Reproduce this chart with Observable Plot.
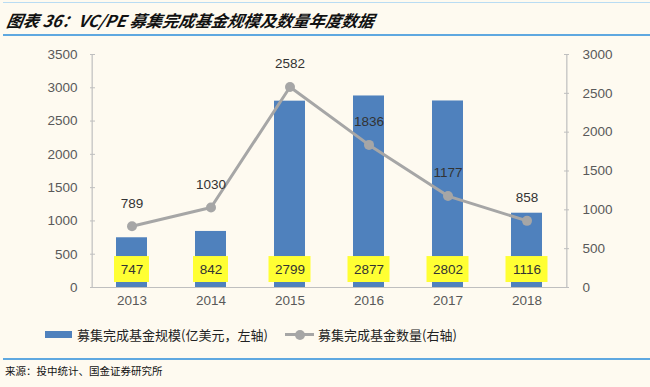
<!DOCTYPE html>
<html>
<head>
<meta charset="utf-8">
<script src="https://cdn.jsdelivr.net/npm/d3@7"></script>
<script src="https://cdn.jsdelivr.net/npm/@observablehq/plot@0.6"></script>
<style>
  html, body { margin: 0; padding: 0; background: #fefaf0; }
  #page { position: relative; width: 650px; height: 387px; background: #fefaf0; overflow: hidden;
          font-family: "Liberation Sans", Arial, "Noto Sans CJK SC", sans-serif; }
  .hline { position: absolute; left: 3px; width: 647px; }
  #title { position: absolute; left: 5px; top: 9px; font-family: "Noto Sans CJK SC", sans-serif;
           font-weight: bold; font-style: italic; font-size: 16.3px; color: #111; white-space: nowrap;
           transform: skewX(-10deg); transform-origin: left bottom; line-height: 22px; }
  #chart { position: absolute; left: 0; top: 40px; }
  .leg { position: absolute; font-family: "Noto Sans CJK SC", sans-serif; font-size: 13px; color: #222;
         white-space: nowrap; line-height: 16px; }
  #source { position: absolute; left: 5px; top: 364px; font-family: "Noto Sans CJK SC", sans-serif;
            font-size: 10.5px; color: #111; white-space: nowrap; line-height: 14px; }
</style>
</head>
<body>
<div id="page">
  <div class="hline" style="top:2px;height:1px;background:#b9dcf3;"></div>
  <div id="title">图表 36：VC/PE 募集完成基金规模及数量年度数据</div>
  <div class="hline" style="top:34px;height:2px;background:#5fa8e0;"></div>
  <div id="chart"></div>
  <div style="position:absolute;left:45px;top:331px;width:27px;height:7px;background:#4f81bd;"></div>
  <div class="leg" style="left:77px;top:327px;">募集完成基金规模(亿美元，左轴)</div>
  <div style="position:absolute;left:285px;top:333px;width:29px;height:3px;background:#a6a6a6;"></div>
  <div style="position:absolute;left:295px;top:329.5px;width:10px;height:10px;border-radius:5px;background:#a6a6a6;"></div>
  <div class="leg" style="left:318px;top:327px;">募集完成基金数量(右轴)</div>
  <div class="hline" style="top:358px;height:2px;background:#5fa8e0;"></div>
  <div id="source">来源：投中统计、国金证券研究所</div>
</div>
<script>
const years = ["2013", "2014", "2015", "2016", "2017", "2018"];
const fundSize = [747, 842, 2799, 2877, 2802, 1116];      // 亿美元, left axis
const fundCount = [789, 1030, 2582, 1836, 1177, 858];     // right axis
const leftTicks = [0, 500, 1000, 1500, 2000, 2500, 3000, 3500];
const rightTicks = [0, 500, 1000, 1500, 2000, 2500, 3000];
const leftMax = 3500, rightMax = 3000;

const k = leftMax / rightMax;
const data = years.map((y, i) => ({year: y, size: fundSize[i], count: fundCount[i], countScaled: fundCount[i] * k}));

const W = 650, H = 270, mL = 90, mR = 82, mT = 14, mB = 23;
const step = (W - mL - mR) / years.length;
const axisColor = "#bfbfbf";
const textColor = "#595959";
const fs = 13.5;
const boxY1 = 75, boxY2 = 465;

const chart = Plot.plot({
  width: W, height: H,
  marginLeft: mL, marginRight: mR, marginTop: mT, marginBottom: mB,
  style: {background: "transparent", fontFamily: "'Liberation Sans', Arial, sans-serif", fontSize: fs + "px", color: textColor},
  x: {domain: years, paddingInner: 0.61, paddingOuter: 0.305, label: null},
  y: {domain: [0, leftMax], label: null},
  marks: [
    Plot.barY(data, {x: "year", y: "size", fill: "#4f81bd"}),
    Plot.barY(data.filter(d => String(d.size).length <= 3), {x: "year", y1: boxY1, y2: boxY2, fill: "#ffff33", insetLeft: -2, insetRight: -2}),
    Plot.barY(data.filter(d => String(d.size).length > 3), {x: "year", y1: boxY1, y2: boxY2, fill: "#ffff33", insetLeft: -5.5, insetRight: -5.5}),
    Plot.text(data, {x: "year", y: (boxY1 + boxY2) / 2, text: d => String(d.size), fill: "#333", fontSize: fs}),
    Plot.ruleY([0], {stroke: axisColor, strokeWidth: 1.2}),
    Plot.ruleX([years[0]], {stroke: axisColor, strokeWidth: 1.2, dx: -step / 2}),
    Plot.ruleX([years[years.length - 1]], {stroke: axisColor, strokeWidth: 1.2, dx: step / 2}),
    Plot.axisY({anchor: "left", ticks: leftTicks, tickFormat: d => String(d), tickSize: -5, tickPadding: 18,
                stroke: axisColor, fill: textColor, fontSize: fs, label: null}),
    Plot.axisY({anchor: "right", ticks: rightTicks.map(v => v * k), tickFormat: d => String(Math.round(d / k)),
                tickSize: -5, tickPadding: 19, stroke: axisColor, fill: textColor, fontSize: fs, label: null}),
    Plot.axisX({anchor: "bottom", tickSize: 0, tickPadding: 8, fill: textColor, fontSize: fs, label: null}),
    Plot.line(data, {x: "year", y: "countScaled", stroke: "#a6a6a6", strokeWidth: 3}),
    Plot.dot(data, {x: "year", y: "countScaled", r: 5, fill: "#a6a6a6"}),
    Plot.text(data, {x: "year", y: "countScaled", text: d => String(d.count), dy: -23, fill: "#333", fontSize: fs})
  ]
});
document.getElementById("chart").appendChild(chart);
</script>
</body>
</html>
